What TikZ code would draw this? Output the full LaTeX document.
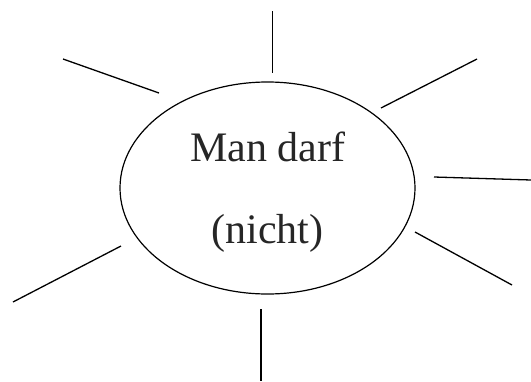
\documentclass[tikz,border=0pt]{standalone}
\usepackage{fontspec}
\setmainfont{Liberation Serif}
\usetikzlibrary{shapes.geometric}

\tikzset{ray/.style={line width=1.3pt}}
\tikzstyle{word}=[anchor=base,inner sep=0pt,font=\fontsize{42}{42}\selectfont,text=black!85]

\begin{document}
\begin{tikzpicture}[x=1pt,y=-1pt,line width=1.2pt]
    \useasboundingbox (0,0) rectangle (531,381);
    \node [ellipse,draw,minimum width=295pt,minimum height=212pt,inner sep=0pt] (sun) at (267.5,188) {};
    \node [word] (man) at (268,161) {Man darf};
    \node [word] (nicht) at (267.5,243) {(nicht)};
    % ray ends
    \coordinate (top-a) at (272.7,11);   \coordinate (top-b) at (272.7,73);
    \coordinate (ul-a) at (63,59);       \coordinate (ul-b) at (159,93);
    \coordinate (ur-a) at (477,59);      \coordinate (ur-b) at (381,108);
    \coordinate (r-a) at (434,177);      \coordinate (r-b) at (531,180);
    \coordinate (lr-a) at (415,232);     \coordinate (lr-b) at (512,285);
    \coordinate (ll-a) at (13,302);      \coordinate (ll-b) at (121,246);
    \coordinate (bot-a) at (261,309);    \coordinate (bot-b) at (261,381);
    \foreach \r in {top,ul,ur,r,lr,ll,bot}
        \draw [ray] (\r-a) -- (\r-b);
\end{tikzpicture}
\end{document}
